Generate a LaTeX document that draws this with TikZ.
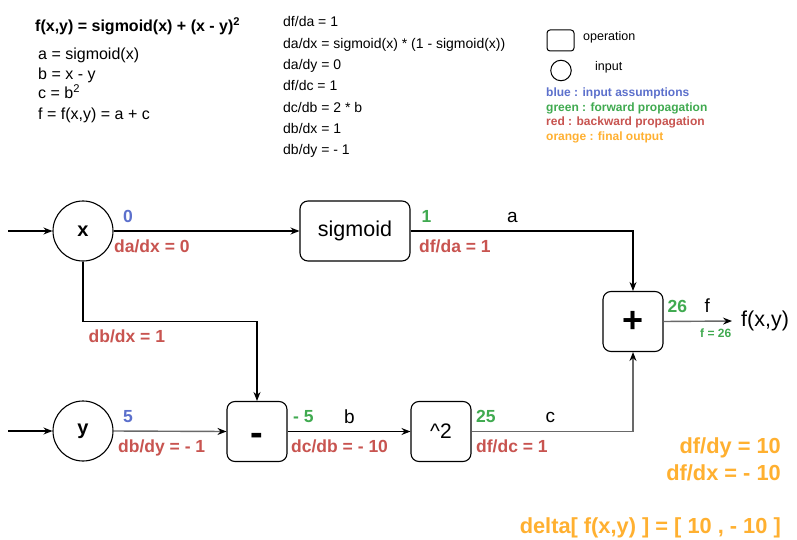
\documentclass[tikz,border=0pt]{standalone}
\usepackage{fontspec}
\setmainfont{Liberation Sans}
\usetikzlibrary{arrows.meta}
\definecolor{cblue}{RGB}{92,112,204}
\definecolor{cgreen}{RGB}{64,170,80}
\definecolor{cred}{RGB}{200,84,80}
\definecolor{corange}{RGB}{255,176,48}
\definecolor{lgray}{RGB}{105,105,105}
\begin{document}
\begin{tikzpicture}[x=1pt,y=-1pt,
  op/.style={draw, rounded corners=8pt, minimum width=60pt, minimum height=60pt, inner sep=0pt, line width=1.1pt},
  inp/.style={draw, circle, minimum size=60pt, inner sep=0pt, line width=1.1pt, font=\bfseries\fontsize{20}{24}\selectfont},
  arr/.style={line width=1.1pt, -{Stealth[length=9pt,width=7pt,inset=3pt,color=black]}},
  garr/.style={arr, draw=lgray, line width=1.4pt},
  lbl/.style={anchor=base west, inner sep=0pt},
  redl/.style={lbl, text=cred, font=\bfseries\fontsize{17.5}{21}\selectfont},
  bluel/.style={lbl, text=cblue, font=\bfseries\fontsize{17.5}{21}\selectfont},
  greenl/.style={lbl, text=cgreen, font=\bfseries\fontsize{17.5}{21}\selectfont},
  varl/.style={lbl, font=\fontsize{19}{23}\selectfont},
  orl/.style={anchor=base east, inner sep=0pt, text=corange, font=\bfseries\fontsize{21.8}{26}\selectfont},
  lefttxt/.style={lbl, font=\fontsize{16}{19}\selectfont},
  midtxt/.style={lbl, font=\fontsize{14}{17}\selectfont},
  legtxt/.style={lbl, font=\fontsize{12.5}{15}\selectfont},
  legc/.style={lbl, font=\bfseries\fontsize{12}{14}\selectfont}
]
\useasboundingbox (0,0) rectangle (797,540);
\fill[white] (0,0) rectangle (797,540);

% header formulas
\node[lbl, font=\bfseries\fontsize{16}{19}\selectfont] (title) at (35,32) {f(x,y) = sigmoid(x) + (x - y)\textsuperscript{2}};
\node[lefttxt] (la) at (38,60) {a = sigmoid(x)};
\node[lefttxt] (lb) at (38,80) {b = x - y};
\node[lefttxt] (lc) at (38,99) {c = b\textsuperscript{2}};
\node[lefttxt] (lf) at (38,120) {f = f(x,y) = a + c};

\node[midtxt] (m1) at (283,26.7) {df/da = 1};
\node[midtxt] (m2) at (283,48.3) {da/dx = sigmoid(x) * (1 - sigmoid(x))};
\node[midtxt] (m3) at (283,70) {da/dy = 0};
\node[midtxt] (m4) at (283,90.7) {df/dc = 1};
\node[midtxt] (m5) at (283,112.3) {dc/db = 2 * b};
\node[midtxt] (m6) at (283,133.3) {db/dx = 1};
\node[midtxt] (m7) at (283,154.3) {db/dy = - 1};

% legend
\node[draw, rounded corners=3pt, minimum width=27pt, minimum height=21pt, inner sep=0pt, line width=1pt] (legop) at (560.5,40.5) {};
\node[legtxt] (legopt) at (583,40.5) {operation};
\node[draw, circle, minimum size=20.5pt, inner sep=0pt, line width=1pt] (legin) at (561,70.5) {};
\node[legtxt] (legint) at (595,70.5) {input};
\node[legc, text=cblue] (lg1) at (546,97) {blue : input assumptions};
\node[legc, text=cgreen] (lg2) at (546,111.5) {green : forward propagation};
\node[legc, text=cred] (lg3) at (546,126) {red : backward propagation};
\node[legc, text=corange] (lg4) at (546,140.5) {orange : final output};

% graph nodes
\node[inp] (x) at (83,231) {x};
\node[inp] (y) at (83,431) {y};
\node[op, minimum width=110pt, font=\fontsize{21.5}{26}\selectfont] (sig) at (355,231) {sigmoid};
\node[op, font=\bfseries\fontsize{38}{44}\selectfont] (minus) at (257,431.5) {\smash{\raisebox{-14pt}{-}}};
\node[op, font=\fontsize{21}{25}\selectfont] (sq) at (441,431.5) {\textasciicircum 2};
\node[op, font=\bfseries\fontsize{36}{42}\selectfont] (plus) at (633,321.5) {+};
\node[anchor=west, inner xsep=9pt, inner ysep=0pt, font=\fontsize{21.5}{26}\selectfont] (out) at (732,321) {f(x,y)};

\coordinate (inx) at (8,231);
\coordinate (iny) at (8,431);
\coordinate (xb) at (83,321.5);

% connectors
\draw[arr] (inx) -- (x);
\draw[arr] (iny) -- (y);
\draw[arr] (x) -- (sig);
\draw[arr] (x.south) -- (xb) -| (minus.north);
\draw[garr] (y.east) -- (minus.west);
\draw[arr] (minus) -- (sq);
\draw[arr] (sig.east) -| (plus.north);
\draw[garr] (sq.east) -| (plus.south);
\draw[garr] (plus.east) -- (out.west);

% edge labels
\node[bluel] (vx) at (123,222) {0};
\node[redl] (gx) at (114,252) {da/dx = 0};
\node[redl] (gbx) at (88.5,342) {db/dx = 1};
\node[greenl] (va) at (421.5,222) {1};
\node[varl] (na) at (507,222.5) {a};
\node[redl] (ga) at (419,252) {df/da = 1};
\node[greenl] (vf) at (667.5,312) {26};
\node[varl] (nf) at (704.5,312) {f};
\node[lbl, text=cgreen, font=\bfseries\fontsize{12}{14}\selectfont] (vf2) at (700,337) {f = 26};
\node[bluel] (vy) at (123,422) {5};
\node[redl] (gy) at (118,452) {db/dy = - 1};
\node[greenl] (vb) at (293,422) {- 5};
\node[varl] (nb) at (344,423) {b};
\node[redl] (gb) at (291,452) {dc/db = - 10};
\node[greenl] (vc) at (476,422) {25};
\node[varl] (nc) at (545.5,422.5) {c};
\node[redl] (gc) at (476,452) {df/dc = 1};

% final output
\node[orl] (o1) at (781,453) {df/dy = 10};
\node[orl] (o2) at (781,480) {df/dx = - 10};
\node[orl] (o3) at (781,533) {delta[ f(x,y) ] = [ 10 , - 10 ]};
\end{tikzpicture}
\end{document}
